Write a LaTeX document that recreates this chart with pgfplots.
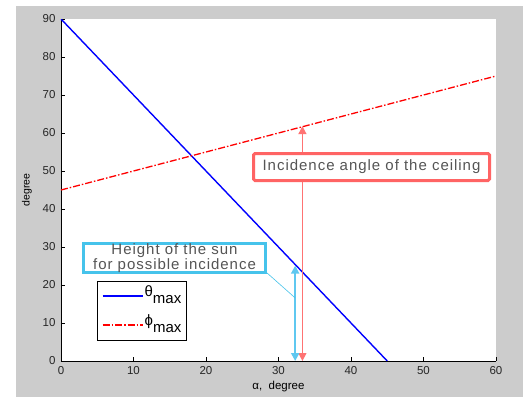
\documentclass[border=0pt]{standalone}
\usepackage{fontspec}
\setmainfont{Liberation Sans}
\newfontfamily\annfont[LetterSpace=6.5]{Liberation Sans}
\usepackage{pgfplots}
\pgfplotsset{compat=1.18}
\usetikzlibrary{arrows.meta}
\definecolor{figgray}{RGB}{204,204,204}
\definecolor{cyanA}{RGB}{95,200,240}
\definecolor{redA}{RGB}{255,115,115}
\definecolor{boxcyan}{RGB}{70,195,235}
\definecolor{boxred}{RGB}{255,100,100}
\definecolor{txtgray}{RGB}{85,85,85}
\begin{document}
\begin{tikzpicture}
\useasboundingbox (-61pt,-36pt) rectangle (462pt,361pt);
\fill[figgray] (-45pt,-36pt) rectangle (462pt,355pt);
\begin{axis}[
  at={(0pt,0pt)}, anchor=south west,
  scale only axis, width=435pt, height=342pt,
  xmin=0, xmax=60, ymin=0, ymax=90,
  xtick={0,10,...,60}, ytick={0,10,...,90},
  axis x line*=bottom, axis y line*=left,
  axis line style={black, line width=0.8pt},
  tick align=inside, major tick length=4pt,
  tick style={black, line width=0.8pt},
  axis background/.style={fill=white},
  /pgf/number format/assume math mode=true,
  tick label style={font=\fontsize{11.5}{13}\selectfont, text=black!85},
  xticklabel style={yshift=-2pt},
  yticklabel style={xshift=-2pt},
  xlabel={α,\ \ degree}, ylabel={degree},
  every axis x label/.style={at={(axis description cs:0.5,0)}, anchor=center, yshift=-26pt, font=\fontsize{11.5}{13}\selectfont},
  every axis y label/.style={at={(axis description cs:-0.0782,0.5)}, anchor=center, rotate=90, font=\fontsize{10.5}{12}\selectfont},
  legend style={at={(axis cs:5,21)}, anchor=north west, draw=black, line width=0.8pt, fill=white,
    font=\fontsize{15}{17}\selectfont, inner xsep=4pt, inner ysep=2pt, row sep=3pt},
  legend cell align=left,
  legend image code/.code={\draw[#1, line width=2pt] (0pt,0.3pt) -- (40pt,0.3pt);},
]
\addplot[color=blue, line width=1.4pt] coordinates {(0,90) (45,0)};
\addlegendentry[text height=12pt, text depth=12pt, inner sep=1pt]{θ\raisebox{-6.5pt}{max}}
\addplot[color=red, line width=1.3pt, dash pattern=on 7pt off 2pt on 1.5pt off 2pt] coordinates {(0,45) (60,75)};
\addlegendentry[text height=12pt, text depth=12pt, inner sep=1pt]{ϕ\raisebox{-6.5pt}{max}}
\addplot[redA, line width=1.4pt, forget plot, {Triangle[width=8pt,length=8pt]}-{Triangle[width=8pt,length=8pt]}] coordinates {(33.3,0) (33.3,61.8)};
\addplot[cyanA, line width=2pt, forget plot, {Triangle[width=8pt,length=8pt]}-{Triangle[width=8pt,length=8pt]}] coordinates {(32.3,0) (32.3,25.1)};
\addplot[boxcyan, line width=0.6pt, forget plot] coordinates {(28.4,23.2) (32.3,16.6)};
\node[draw=boxred, line width=3pt, fill=white, rounded corners=1.5pt, text=txtgray,
  font=\annfont\fontsize{15}{17}\selectfont, inner sep=0pt, minimum width=236pt, minimum height=27pt]
  at (axis cs:42.83,51.05) {Incidence angle of the ceiling};
\node[draw=boxcyan, line width=3pt, fill=white, text=txtgray, align=center,
  font=\annfont\fontsize{15}{17}\selectfont, inner sep=0pt, minimum width=182pt, minimum height=27pt]
  at (axis cs:15.66,27.1) {Height of the sun\\[-2pt]for possible incidence};
\end{axis}
\end{tikzpicture}
\end{document}
